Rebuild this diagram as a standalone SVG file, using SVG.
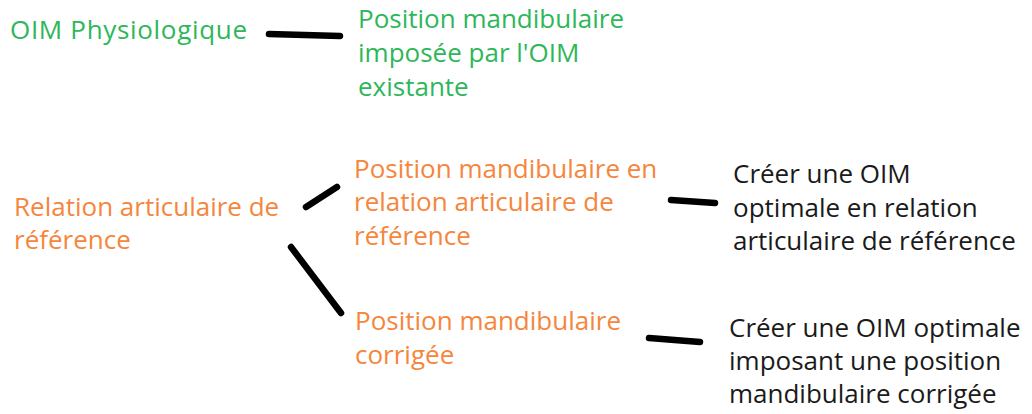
<svg xmlns="http://www.w3.org/2000/svg" width="1032" height="414" viewBox="0 0 1032 414">
<style>
text{font-family:"Open Sans","Noto Sans","Liberation Sans",sans-serif;font-size:26px;}
.g{fill:#2eb75a;}
.o{fill:#f5863c;}
.k{fill:#1a1a1a;}
.c line{stroke:#000;stroke-width:6.5;stroke-linecap:round;}
</style>
<rect width="1032" height="414" fill="#fff"/>
<g id="n1"><text class="g" x="10" y="39" textLength="237" lengthAdjust="spacing">OIM Physiologique</text></g>
<g id="n2"><text class="g" x="358" y="28">Position mandibulaire</text><text class="g" x="358" y="62">imposée par l'OIM</text><text class="g" x="358" y="96">existante</text></g>
<g id="n3"><text class="o" x="14" y="216">Relation articulaire de</text><text class="o" x="14" y="249">référence</text></g>
<g id="n4"><text class="o" x="354" y="178">Position mandibulaire en</text><text class="o" x="354" y="211">relation articulaire de</text><text class="o" x="354" y="245">référence</text></g>
<g id="n5"><text class="k" x="733" y="183">Créer une OIM</text><text class="k" x="733" y="217">optimale en relation</text><text class="k" x="733" y="250">articulaire de référence</text></g>
<g id="n6"><text class="o" x="355" y="330">Position mandibulaire</text><text class="o" x="355" y="364">corrigée</text></g>
<g id="n7"><text class="k" x="729" y="337">Créer une OIM optimale</text><text class="k" x="729" y="370">imposant une position</text><text class="k" x="729" y="403">mandibulaire corrigée</text></g>
<g id="connectors" class="c">
<line x1="269" y1="34" x2="340" y2="36"/>
<line x1="306" y1="207" x2="337" y2="187"/>
<line x1="291" y1="247" x2="341" y2="313"/>
<line x1="671" y1="200" x2="715" y2="203"/>
<line x1="649" y1="338" x2="700" y2="342"/>
</g>
</svg>
